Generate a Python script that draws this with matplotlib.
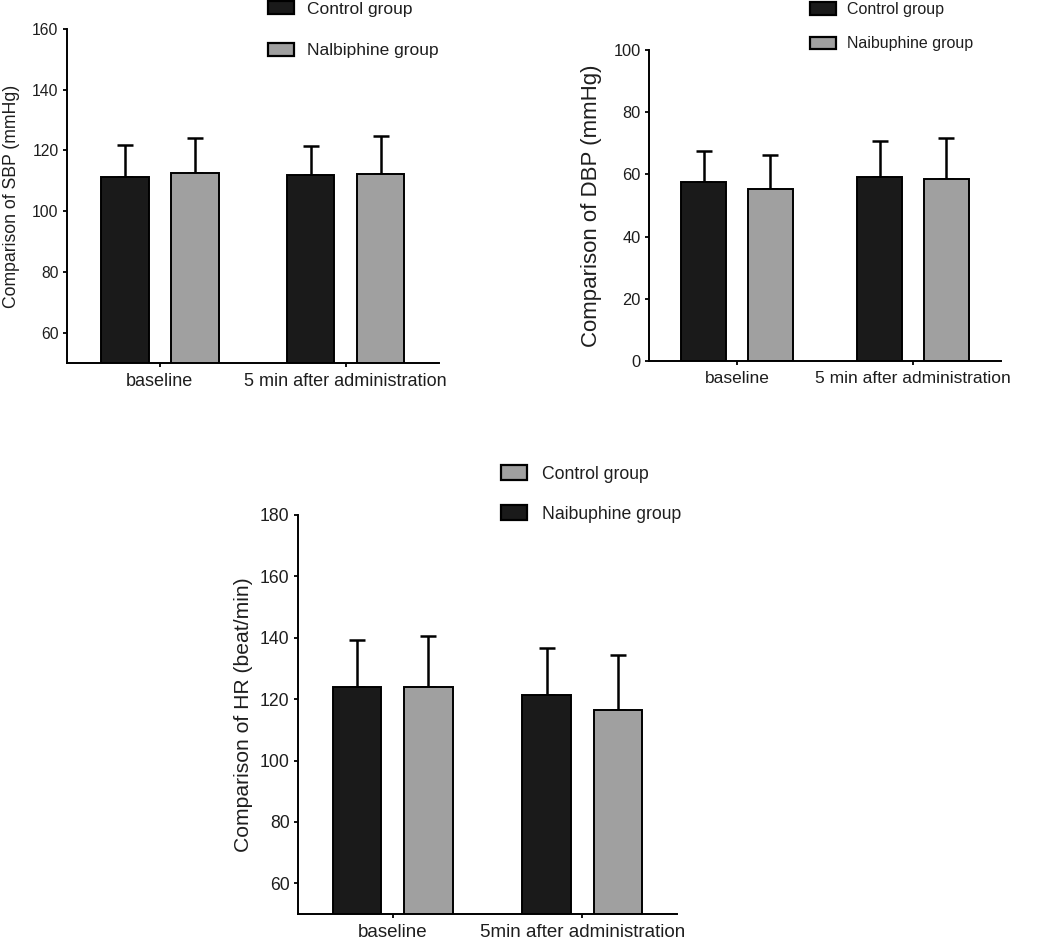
import matplotlib
matplotlib.use('Agg')
import matplotlib.pyplot as plt
from matplotlib.patches import Patch
import numpy as np

plt.rcParams['font.family'] = ['Liberation Sans', 'DejaVu Sans']
plt.rcParams['text.color'] = '#1e1e1e'
plt.rcParams['xtick.color'] = 'black'
plt.rcParams['ytick.color'] = 'black'
plt.rcParams['xtick.labelcolor'] = '#1e1e1e'
plt.rcParams['ytick.labelcolor'] = '#1e1e1e'
plt.rcParams['axes.labelcolor'] = '#1e1e1e'

BLACK = '#1a1a1a'
GRAY = '#a0a0a0'

# SBP panel
sbp_categories = ['baseline', '5 min after administration']
sbp_control = [111.3, 111.8]
sbp_control_sd = [10.4, 9.7]
sbp_nalb = [112.7, 112.3]
sbp_nalb_sd = [11.3, 12.4]

# DBP panel
dbp_categories = ['baseline', '5 min after administration']
dbp_control = [57.4, 59.3]
dbp_control_sd = [10.1, 11.5]
dbp_nalb = [55.2, 58.5]
dbp_nalb_sd = [11.1, 13.2]

# HR panel
hr_categories = ['baseline', '5min after administration']
hr_control = [123.9, 121.4]
hr_control_sd = [15.2, 15.1]
hr_nalb = [123.8, 116.6]
hr_nalb_sd = [16.8, 17.7]


def draw_panel(ax, categories, control, control_sd, nalb, nalb_sd, ylim, yticks,
               ylabel, tick_fs, xtick_fs, label_fs, labelpad):
    x = np.arange(len(categories))
    width = 0.255
    off = 0.188
    ax.bar(x - off, control, width, color=BLACK, edgecolor='black', linewidth=1.4, zorder=2)
    ax.bar(x + off, nalb, width, color=GRAY, edgecolor='black', linewidth=1.4, zorder=2)
    ax.errorbar(x - off, control, yerr=[np.zeros(len(x)), control_sd], fmt='none',
                ecolor='black', elinewidth=1.8, capsize=5.8, capthick=1.8, zorder=1.5)
    ax.errorbar(x + off, nalb, yerr=[np.zeros(len(x)), nalb_sd], fmt='none',
                ecolor='black', elinewidth=1.8, capsize=5.8, capthick=1.8, zorder=1.5)
    ax.set_xlim(-0.5, 1.5)
    ax.set_ylim(*ylim)
    ax.set_yticks(yticks)
    ax.set_xticks(x)
    ax.set_xticklabels(categories, fontsize=xtick_fs)
    ax.tick_params(axis='y', labelsize=tick_fs, length=3, width=1.3, pad=3)
    ax.tick_params(axis='x', length=3, width=1.3, pad=4)
    ax.set_ylabel(ylabel, fontsize=label_fs, labelpad=labelpad)
    for s in ['top', 'right']:
        ax.spines[s].set_visible(False)
    for s in ['left', 'bottom']:
        ax.spines[s].set_linewidth(1.4)
        ax.spines[s].set_color('black')


def add_legend(ax, fig, labels, colors, anchor, fs, hl, hh, ls, tp):
    handles = [Patch(facecolor=c, edgecolor='black', linewidth=1.6) for c in colors]
    ax.legend(handles, labels, loc='upper left', bbox_to_anchor=anchor,
              bbox_transform=fig.transFigure, frameon=False, fontsize=fs,
              handlelength=hl, handleheight=hh, labelspacing=ls, handletextpad=tp,
              borderpad=0, borderaxespad=0)


fig = plt.figure(figsize=(10.56, 9.44), dpi=100)

ax1 = fig.add_axes([0.0634, 0.6155, 0.352, 0.3538])
draw_panel(ax1, sbp_categories, sbp_control, sbp_control_sd, sbp_nalb, sbp_nalb_sd,
           (50, 160), [60, 80, 100, 120, 140, 160], 'Comparison of SBP (mmHg)',
           11.3, 13, 12.7, 9)
add_legend(ax1, fig, ['Control group', 'Nalbiphine group'], [BLACK, GRAY],
           (268 / 1056, 1 - 1 / 944), 12.5, 1.5, 0.8, 1.5, 0.75)

ax2 = fig.add_axes([0.6146, 0.6176, 0.3333, 0.3294])
draw_panel(ax2, dbp_categories, dbp_control, dbp_control_sd, dbp_nalb, dbp_nalb_sd,
           (0, 100), [0, 20, 40, 60, 80, 100], 'Comparison of DBP (mmHg)',
           11.8, 12.5, 16, 8)
add_legend(ax2, fig, ['Control group', 'Naibuphine group'], [BLACK, GRAY],
           (810 / 1056, 1 - 2 / 944), 11.5, 1.6, 0.8, 1.2, 0.7)

ax3 = fig.add_axes([0.2822, 0.0318, 0.3589, 0.4227])
draw_panel(ax3, hr_categories, hr_control, hr_control_sd, hr_nalb, hr_nalb_sd,
           (50, 180), [60, 80, 100, 120, 140, 160, 180], 'Comparison of HR (beat/min)',
           12.7, 13.5, 15.2, 5)
# legend colours in the original are swapped relative to the bars
add_legend(ax3, fig, ['Control group', 'Naibuphine group'], [GRAY, BLACK],
           (501 / 1056, 1 - 465 / 944), 12.7, 1.5, 0.95, 1.28, 0.8)

fig.savefig('out.png', dpi=100)
